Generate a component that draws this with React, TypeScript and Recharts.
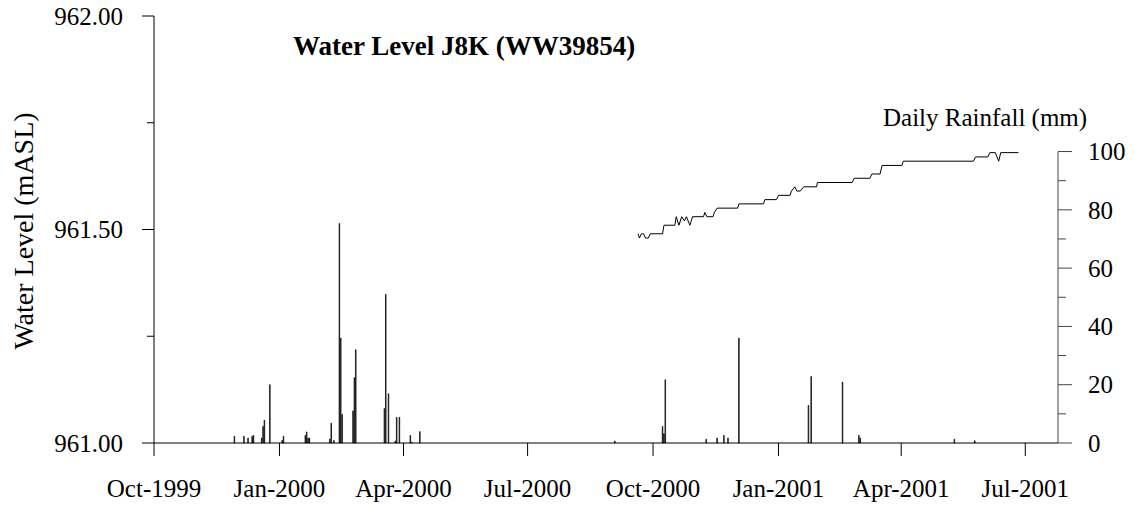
import React from 'react'
import { ComposedChart, Bar, Line, XAxis, YAxis, ReferenceLine } from 'recharts'

const FONT = '"Liberation Serif", "Times New Roman", serif'

// x values are days counted from 1 Oct 1999
const tickDays = [0, 92, 183, 274, 366, 458, 548, 639]
const tickLabels = ['Oct-1999', 'Jan-2000', 'Apr-2000', 'Jul-2000', 'Oct-2000', 'Jan-2001', 'Apr-2001', 'Jul-2001']

const rainDays = [
    59, 66, 69, 72, 73, 79, 80, 81, 85, 94, 95, 111, 112, 113, 114, 129, 130, 132,
    136, 137, 138, 146, 147, 148, 169, 170, 172, 177, 178, 180, 188, 189, 195,
    338, 373, 374, 375, 405, 413, 418, 421, 429, 480, 482, 505, 517, 518, 587, 602,
]
const rainMm = [
    2.3, 2.3, 1.7, 2.3, 2.6, 1.7, 5.7, 7.8, 20, 0.9, 2.3, 2.6, 3.8, 1.7, 1.7, 1.3, 6.8, 0.9,
    75.3, 36, 9.8, 11, 22.4, 32, 11.8, 51, 16.9, 0.7, 8.8, 8.8, 2.6, 0.3, 3.9,
    0.7, 5.7, 3.2, 21.7, 1.3, 1.7, 2.6, 1.7, 36, 12.9, 22.8, 20.9, 2.6, 1.7, 1.3, 0.8,
]

const levelDays = [
    355, 356, 357.5, 359, 360.5, 362.5, 364, 373, 374, 382, 383, 385, 387, 389, 390.5, 393, 395,
    403, 404, 405.5, 410, 411, 413, 428, 429, 447, 448, 456.5, 458, 466.5, 467.5, 470, 471.5, 474,
    476.5, 486, 486.5, 512, 513.5, 525, 526.5, 532.5, 534, 548.5, 549.5, 601, 602.5, 611.5, 613,
    617, 619.5, 621, 634,
]
const levelM = [
    961.49, 961.48, 961.49, 961.49, 961.48, 961.48, 961.49, 961.49, 961.51, 961.51, 961.53, 961.51,
    961.53, 961.52, 961.53, 961.51, 961.53, 961.53, 961.54, 961.53, 961.53, 961.54, 961.55, 961.55,
    961.56, 961.56, 961.57, 961.57, 961.58, 961.58, 961.59, 961.6, 961.59, 961.59, 961.6, 961.6,
    961.61, 961.61, 961.62, 961.62, 961.63, 961.63, 961.65, 961.65, 961.66, 961.66, 961.67, 961.67,
    961.68, 961.68, 961.66, 961.68, 961.68,
]

const leftTicks = [961, 961.25, 961.5, 961.75, 962]
const leftMajor = [961, 961.5, 962]
const rightTicks = [0, 10, 20, 30, 40, 50, 60, 70, 80, 90, 100]

const rows: { day: number; rain?: number; level?: number }[] = []
rainDays.forEach((d, i) => rows.push({ day: d, rain: rainMm[i] }))
levelDays.forEach((d, i) => {
    const found = rows.find((r) => r.day === d)
    if (found) found.level = levelM[i]
    else rows.push({ day: d, level: levelM[i] })
})
rows.sort((a, b) => a.day - b.day)

const LeftTick = (props: any) => {
    const { x, y, payload } = props
    const axisX = x + 31
    const major = leftMajor.includes(payload.value)
    return (
        <g>
            <line x1={axisX - (major ? 12 : 7)} x2={axisX} y1={y} y2={y} stroke="#000" />
            {major && (
                <text x={x} y={y} dy="0.35em" textAnchor="end" fontSize={25} fontFamily={FONT} fill="#000">
                    {payload.value.toFixed(2)}
                </text>
            )}
        </g>
    )
}

const RightTick = (props: any) => {
    const { x, y, payload } = props
    const axisX = x - 30
    const major = payload.value % 20 === 0
    return (
        <g>
            <line x1={axisX} x2={axisX + (major ? 14 : 8)} y1={y} y2={y} stroke="#444" />
            {major && (
                <text x={x} y={y} dy="0.35em" textAnchor="start" fontSize={25} fontFamily={FONT} fill="#000">
                    {payload.value}
                </text>
            )}
        </g>
    )
}

export default function App() {
    return (
        <div style={{ position: 'absolute', left: 0, top: 0, width: 1135, height: 508, background: '#fff' }}>
            <ComposedChart
                width={1135}
                height={508}
                data={rows}
                margin={{ top: 16, right: 0, bottom: 0, left: 0 }}
            >
                <XAxis
                    dataKey="day"
                    type="number"
                    domain={[0, 663]}
                    ticks={tickDays}
                    interval={0}
                    tickFormatter={(v: number) => tickLabels[tickDays.indexOf(v)]}
                    height={65}
                    tickSize={13}
                    tickMargin={23}
                    stroke="#000"
                    tick={{ fontSize: 25, fontFamily: FONT, fill: '#000' }}
                />
                <YAxis
                    yAxisId="l"
                    domain={[961, 962]}
                    ticks={leftTicks}
                    width={154}
                    tickSize={12}
                    tickMargin={19}
                    tickLine={false}
                    stroke="#000"
                    tick={<LeftTick />}
                />
                <YAxis
                    yAxisId="r"
                    orientation="right"
                    domain={[0, 146.5]}
                    ticks={rightTicks}
                    width={77}
                    tickSize={14}
                    tickMargin={16}
                    tickLine={false}
                    axisLine={false}
                    tick={<RightTick />}
                />
                <ReferenceLine
                    yAxisId="r"
                    segment={[{ x: 663, y: 0 }, { x: 663, y: 100 }]}
                    stroke="#444"
                />
                <Bar
                    yAxisId="r"
                    dataKey="rain"
                    barSize={2}
                    fill="#555"
                    stroke="#000"
                    strokeWidth={0.7}
                    isAnimationActive={false}
                />
                <Line
                    yAxisId="l"
                    dataKey="level"
                    type="linear"
                    stroke="#000"
                    strokeWidth={1}
                    dot={false}
                    connectNulls
                    isAnimationActive={false}
                />
            </ComposedChart>
            <svg
                width={1135}
                height={508}
                style={{ position: 'absolute', left: 0, top: 0, pointerEvents: 'none' }}
            >
                <text x={293} y={55} fontSize={27} fontWeight="bold" fontFamily={FONT} fill="#000">
                    Water Level J8K (WW39854)
                </text>
                <text x={883} y={126} fontSize={25} fontFamily={FONT} fill="#000">
                    Daily Rainfall (mm)
                </text>
                <text
                    x={33}
                    y={231}
                    transform="rotate(-90, 33, 231)"
                    textAnchor="middle"
                    fontSize={28}
                    fontFamily={FONT}
                    fill="#000"
                >
                    Water Level (mASL)
                </text>
            </svg>
        </div>
    )
}
